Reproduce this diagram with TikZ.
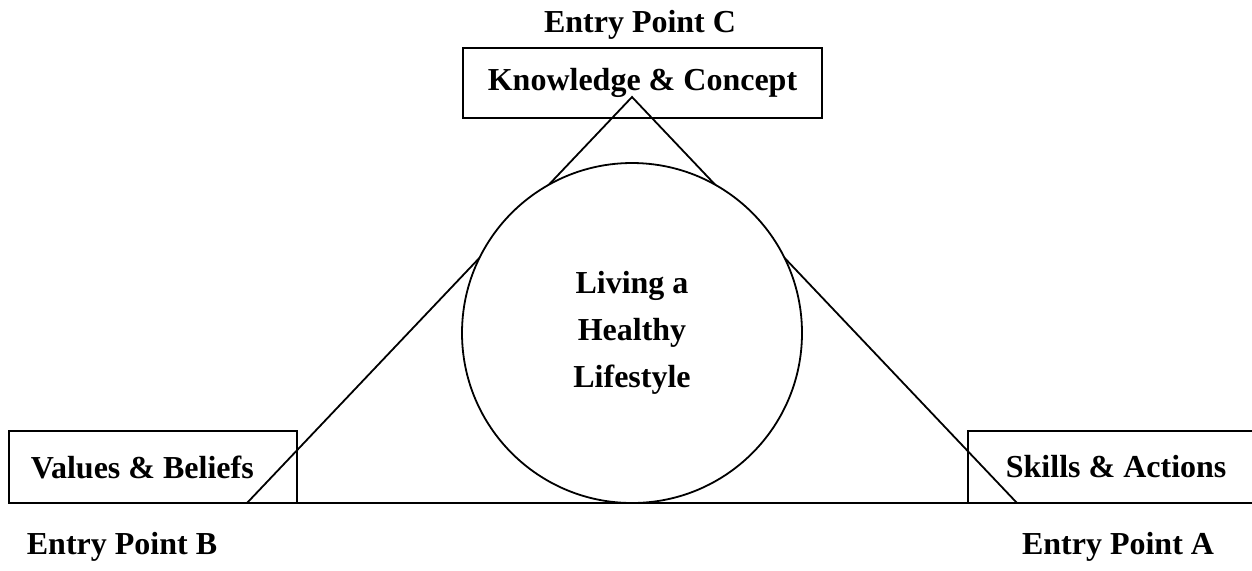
\documentclass[tikz,border=0pt]{standalone}
\usepackage{fontspec}
\setmainfont{Liberation Serif}
\usetikzlibrary{positioning}

\begin{document}
\begin{tikzpicture}[x=0.5pt,y=-0.5pt]
    \tikzset{bold text/.style={font=\bfseries\fontsize{16}{23.5}\selectfont}}
    \tikzset{entry box/.style={draw,line width=0.9pt,bold text,anchor=west,
        align=flush left,minimum height=36pt,inner ysep=0pt}}
    \clip (0,0) rectangle (1252,570);
    \coordinate (apex) at (632,97);
    \coordinate (base left) at (247,503);
    \coordinate (base right) at (1017,503);
    \draw[line width=0.9pt] (apex) -- (base left) -- (base right) -- cycle;
    \node[circle,draw,line width=0.9pt,fill=white,minimum size=170pt,
        inner sep=0pt,align=center,bold text] (lifestyle) at (632,333)
        {Living a\\Healthy\\Lifestyle};
    \node[draw,line width=0.9pt,bold text,minimum width=179.5pt,
        minimum height=35pt] (knowledge) at (642.5,83) {Knowledge \& Concept};
    \node[entry box,inner xsep=11pt,text width=122pt] (values) at (8,467)
        {Values \& Beliefs};
    \node[entry box,inner xsep=19pt,text width=130pt] (skills) at (967,467)
        {Skills \& Actions};
    \node[bold text] (entry c) at (640,25) {Entry Point C};
    \node[bold text] (entry b) at (122,547) {Entry Point B};
    \node[bold text] (entry a) at (1118,547) {Entry Point A};
\end{tikzpicture}
\end{document}
